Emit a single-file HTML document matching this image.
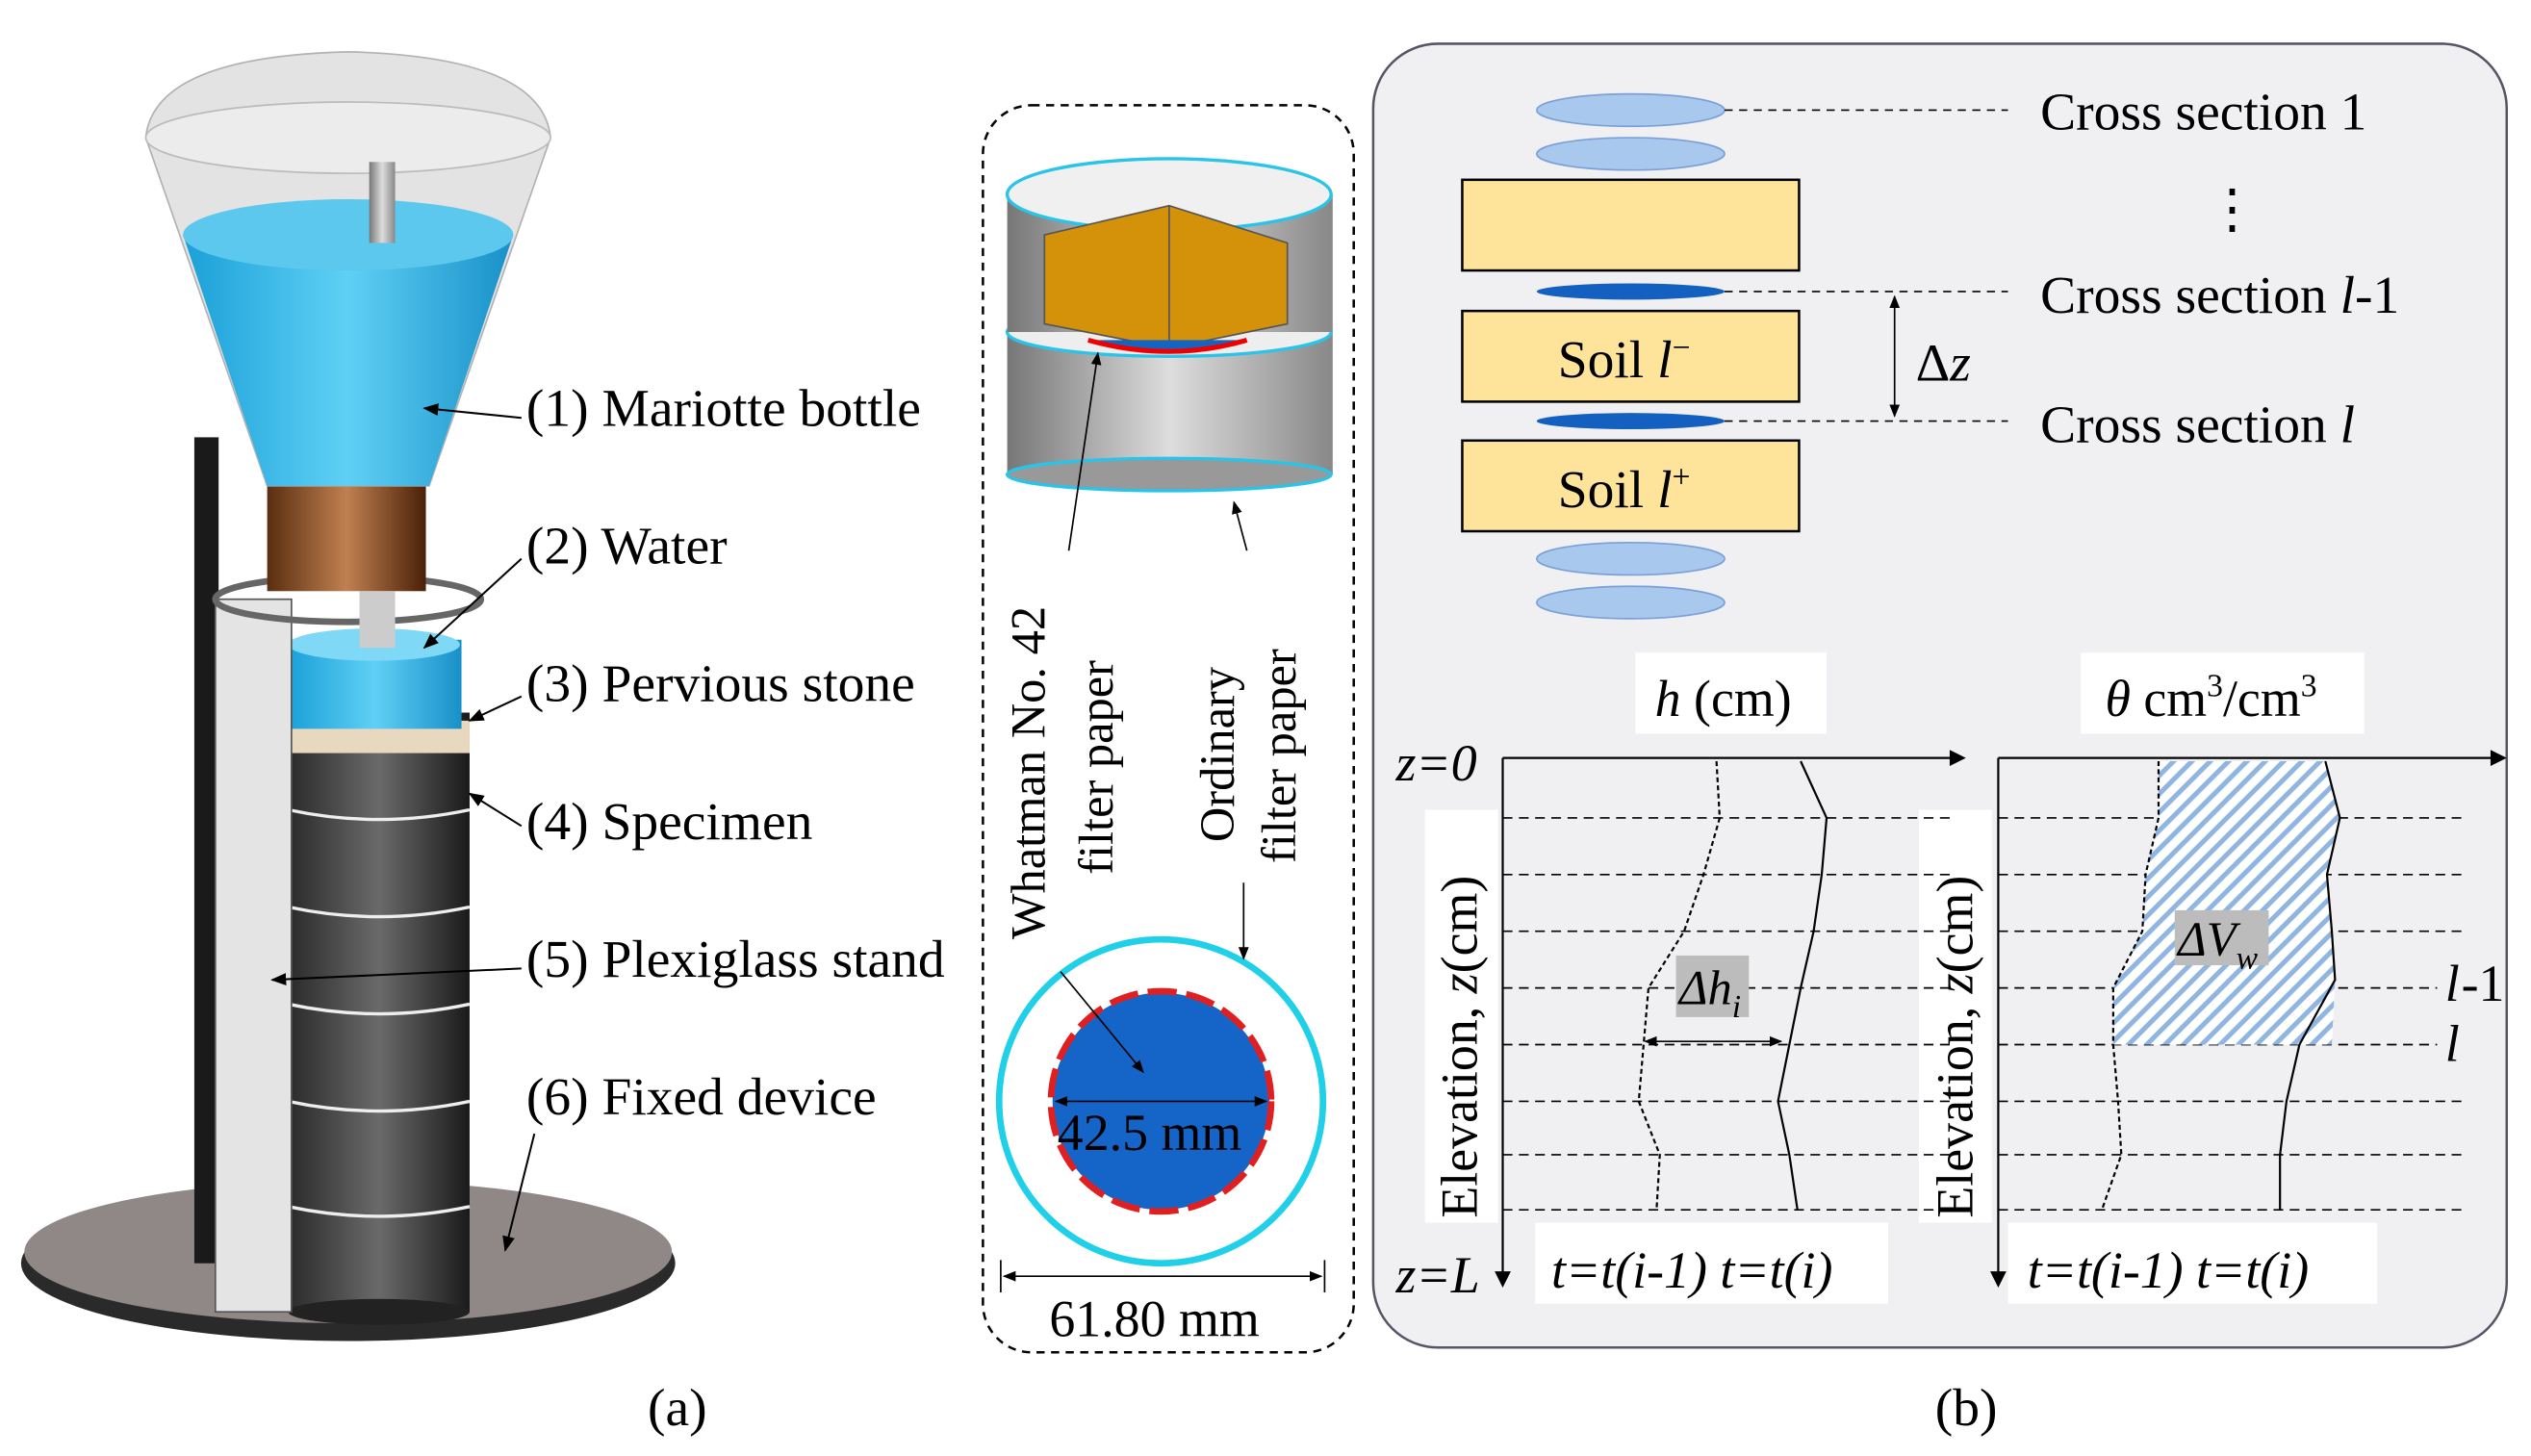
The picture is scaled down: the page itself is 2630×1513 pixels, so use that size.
<!DOCTYPE html>
<html><head><meta charset="utf-8"><style>html,body{margin:0;padding:0;background:#fff}svg{display:block}text{font-family:"Liberation Serif",serif}</style></head><body>
<svg width="2630" height="1513" viewBox="0 0 1563 899" preserveAspectRatio="none" xmlns="http://www.w3.org/2000/svg">
<defs>
<linearGradient id="dk" x1="0" x2="1"><stop offset="0" stop-color="#2a2a2a"/><stop offset="0.5" stop-color="#6a6a6a"/><stop offset="1" stop-color="#1a1a1a"/></linearGradient>
<linearGradient id="bl" x1="0" x2="1"><stop offset="0" stop-color="#1aa0d8"/><stop offset="0.5" stop-color="#5fd0f5"/><stop offset="1" stop-color="#1890c8"/></linearGradient>
<linearGradient id="br" x1="0" x2="1"><stop offset="0" stop-color="#5a2e10"/><stop offset="0.5" stop-color="#c08050"/><stop offset="1" stop-color="#4a2008"/></linearGradient>
<linearGradient id="gr" x1="0" x2="1"><stop offset="0" stop-color="#777"/><stop offset="0.5" stop-color="#ddd"/><stop offset="1" stop-color="#888"/></linearGradient>
<pattern id="hat" width="8" height="8" patternUnits="userSpaceOnUse" patternTransform="rotate(45)"><rect width="8" height="8" fill="#fff"/><rect width="3" height="8" fill="#8fb6e0"/></pattern>
<marker id="ar" viewBox="0 0 10 10" refX="9" refY="5" markerWidth="8" markerHeight="8" orient="auto-start-reverse"><path d="M0 1 L10 5 L0 9z" fill="#000"/></marker>
</defs>
<!-- (a) -->
<ellipse cx="215" cy="780" rx="202" ry="48" fill="#2a2a2a"/>
<ellipse cx="215" cy="773" rx="200" ry="44" fill="#8f8886"/>
<rect x="120" y="270" width="15" height="510" fill="#1a1a1a"/>
<rect x="178" y="440" width="112" height="370" fill="url(#dk)"/>
<ellipse cx="234" cy="810" rx="56" ry="8" fill="#222"/>
<g stroke="#eee" stroke-width="2" fill="none">
<path d="M178 500 Q234 512 290 500"/><path d="M178 560 Q234 572 290 560"/><path d="M178 620 Q234 632 290 620"/><path d="M178 680 Q234 692 290 680"/><path d="M178 745 Q234 757 290 745"/></g>
<rect x="178" y="445" width="112" height="20" fill="#e8d8c0"/>
<rect x="178" y="395" width="107" height="55" fill="url(#bl)"/>
<ellipse cx="231" cy="398" rx="53" ry="10" fill="#7fd8f5"/>
<rect x="133" y="370" width="47" height="440" fill="#e4e4e4" stroke="#555"/>
<ellipse cx="215" cy="370" rx="82" ry="14" fill="none" stroke="#666" stroke-width="4"/>
<rect x="165" y="285" width="98" height="80" fill="url(#br)"/>
<rect x="222" y="365" width="22" height="35" fill="#ccc"/>
<path d="M90 85 Q95 35 215 32 Q335 35 340 85 L265 300 L165 300 Z" fill="#e0e0e0" opacity="0.9" stroke="#aaa"/>
<ellipse cx="215" cy="85" rx="125" ry="22" fill="#ececec" stroke="#bbb"/>
<path d="M113 145 L317 145 L265 300 L165 300 Z" fill="url(#bl)"/>
<ellipse cx="215" cy="145" rx="102" ry="22" fill="#5cc8ee"/>
<rect x="228" y="100" width="16" height="50" fill="url(#gr)"/>
<g stroke="#000" stroke-width="1.2" marker-end="url(#ar)"><line x1="322" y1="258" x2="262" y2="252"/><line x1="322" y1="345" x2="262" y2="400"/><line x1="322" y1="430" x2="290" y2="445"/><line x1="322" y1="510" x2="290" y2="490"/><line x1="322" y1="598" x2="168" y2="605"/><line x1="330" y1="700" x2="312" y2="772"/></g>
<g font-size="33"><text x="325" y="263">(1) Mariotte bottle</text><text x="325" y="348">(2) Water</text><text x="325" y="433">(3) Pervious stone</text><text x="325" y="518">(4) Specimen</text><text x="325" y="603">(5) Plexiglass stand</text><text x="325" y="688">(6) Fixed device</text><text x="400" y="880">(a)</text><text x="1195" y="880">(b)</text></g>
<!-- middle -->
<rect x="607" y="65" width="229" height="770" rx="30" fill="none" stroke="#000" stroke-width="1.5" stroke-dasharray="5,4"/>
<rect x="622" y="205" width="201" height="88" fill="url(#gr)"/>
<ellipse cx="722" cy="293" rx="100" ry="10" fill="#999" stroke="#29c4e8" stroke-width="2"/>
<ellipse cx="722" cy="205" rx="100" ry="15" fill="#eee" stroke="#29c4e8" stroke-width="2"/>
<rect x="622" y="120" width="201" height="85" fill="url(#gr)"/>
<ellipse cx="722" cy="120" rx="100" ry="22" fill="#f0f0f0" stroke="#29c4e8" stroke-width="2"/>
<path d="M645 145 L722 127 L795 150 L795 200 L722 215 L645 200 Z" fill="#d4920a" stroke="#555"/>
<line x1="722" y1="127" x2="722" y2="215" stroke="#555"/>
<path d="M672 210 Q722 224 770 210" stroke="#e00" stroke-width="3" fill="#1565c0"/>
<circle cx="717" cy="680" r="100" fill="#fff" stroke="#20d0e8" stroke-width="4"/>
<circle cx="717" cy="680" r="67" fill="#1565c8"/>
<circle cx="717" cy="680" r="68" fill="none" stroke="#e02020" stroke-width="4" stroke-dasharray="18,6"/>
<line x1="652" y1="680" x2="782" y2="680" stroke="#000" marker-start="url(#ar)" marker-end="url(#ar)"/>
<text x="653" y="710" font-size="32">42.5 mm</text>
<line x1="620" y1="788" x2="816" y2="788" stroke="#000" marker-start="url(#ar)" marker-end="url(#ar)"/><line x1="618" y1="778" x2="618" y2="798" stroke="#000"/><line x1="818" y1="778" x2="818" y2="798" stroke="#000"/>
<text x="648" y="825" font-size="32">61.80 mm</text>
<text transform="translate(645 580) rotate(-90)" font-size="30">Whatman No. 42</text>
<text transform="translate(687 540) rotate(-90)" font-size="30">filter paper</text>
<text transform="translate(762 520) rotate(-90)" font-size="30">Ordinary</text>
<text transform="translate(800 533) rotate(-90)" font-size="30">filter paper</text>
<g stroke="#000" marker-end="url(#ar)"><line x1="660" y1="340" x2="678" y2="218"/><line x1="655" y1="600" x2="706" y2="662"/><line x1="768" y1="545" x2="768" y2="592"/><line x1="770" y1="340" x2="762" y2="310"/></g>
<!-- (b) -->
<rect x="848" y="27" width="700" height="805" rx="40" fill="#f0f0f3" stroke="#556" stroke-width="1.5"/>
<g fill="#a8c8ee" stroke="#7aa0d8"><ellipse cx="1007" cy="68" rx="58" ry="10"/><ellipse cx="1007" cy="95" rx="58" ry="10"/><ellipse cx="1007" cy="345" rx="58" ry="10"/><ellipse cx="1007" cy="372" rx="58" ry="10"/></g>
<g fill="#1460c0"><ellipse cx="1007" cy="180" rx="58" ry="5"/><ellipse cx="1007" cy="260" rx="58" ry="5"/></g>
<g fill="#fde49a" stroke="#000" stroke-width="1.5"><rect x="903" y="111" width="208" height="56"/><rect x="903" y="192" width="208" height="56"/><rect x="903" y="272" width="208" height="56"/></g>
<g stroke="#000" stroke-dasharray="5,4"><line x1="1065" y1="68" x2="1240" y2="68"/><line x1="1065" y1="180" x2="1240" y2="180"/><line x1="1065" y1="260" x2="1240" y2="260"/></g>
<line x1="1170" y1="183" x2="1170" y2="257" stroke="#000" marker-start="url(#ar)" marker-end="url(#ar)"/>
<g font-size="33"><text x="962" y="233">Soil <tspan font-style="italic">l</tspan><tspan font-size="20" dy="-12">−</tspan></text><text x="962" y="313">Soil <tspan font-style="italic">l</tspan><tspan font-size="20" dy="-12">+</tspan></text>
<text x="1183" y="235">Δ<tspan font-style="italic">z</tspan></text>
<text x="1260" y="80">Cross section 1</text><text x="1260" y="193">Cross section <tspan font-style="italic">l</tspan>-1</text><text x="1260" y="273">Cross section <tspan font-style="italic">l</tspan></text><text x="1362" y="140">⋮</text></g>
<g fill="#fff"><rect x="1010" y="403" width="118" height="50"/><rect x="1285" y="403" width="175" height="50"/><rect x="948" y="755" width="218" height="50"/><rect x="1240" y="755" width="228" height="50"/><rect x="880" y="500" width="45" height="255"/><rect x="1185" y="500" width="45" height="255"/></g>
<g font-size="32"><text x="1022" y="442"><tspan font-style="italic">h</tspan> (cm)</text><text x="1300" y="442"><tspan font-style="italic">θ</tspan> cm<tspan font-size="20" dy="-12">3</tspan><tspan dy="12">/cm</tspan><tspan font-size="20" dy="-12">3</tspan></text>
<text x="958" y="795" font-style="italic">t=t(i-1) t=t(i)</text><text x="1252" y="795" font-style="italic">t=t(i-1)  t=t(i)</text>
<text x="862" y="482" font-style="italic">z=0</text><text x="862" y="798" font-style="italic">z=L</text>
<text transform="translate(912 752) rotate(-90)">Elevation, <tspan font-style="italic">z</tspan>(cm)</text>
<text transform="translate(1218 752) rotate(-90)">Elevation, <tspan font-style="italic">z</tspan>(cm)</text>
<text x="1510" y="618" font-style="italic">l</text><text x="1510" y="655" font-style="italic">l</text><text x="1520" y="618">-1</text></g>
<g stroke="#000" stroke-width="1.3"><line x1="928" y1="468" x2="1210" y2="468"/><line x1="928" y1="468" x2="928" y2="790"/><line x1="1234" y1="468" x2="1545" y2="468"/><line x1="1234" y1="468" x2="1234" y2="790"/></g>
<g fill="#000"><path d="M1214 468 l-10 -5 v10z"/><path d="M1548 468 l-10 -5 v10z"/><path d="M928 795 l-5 -10 h10z"/><path d="M1234 795 l-5 -10 h10z"/></g>
<g stroke="#000" stroke-dasharray="6,4" stroke-width="1"><line x1="928" y1="505" x2="1208" y2="505"/><line x1="928" y1="540" x2="1208" y2="540"/><line x1="928" y1="575" x2="1208" y2="575"/><line x1="928" y1="610" x2="1208" y2="610"/><line x1="928" y1="645" x2="1208" y2="645"/><line x1="928" y1="680" x2="1208" y2="680"/><line x1="928" y1="713" x2="1208" y2="713"/><line x1="928" y1="747" x2="1208" y2="747"/>
<line x1="1234" y1="505" x2="1520" y2="505"/><line x1="1234" y1="540" x2="1520" y2="540"/><line x1="1234" y1="575" x2="1520" y2="575"/><line x1="1234" y1="610" x2="1505" y2="610"/><line x1="1234" y1="645" x2="1505" y2="645"/><line x1="1234" y1="680" x2="1520" y2="680"/><line x1="1234" y1="713" x2="1520" y2="713"/><line x1="1234" y1="747" x2="1520" y2="747"/></g>
<path d="M1333 470 L1436 470 L1445 505 L1437 540 L1440 575 L1442 605 L1440 645 L1305 645 L1305 610 L1323 575 L1325 540 L1333 505 Z" fill="url(#hat)"/>
<g fill="none" stroke="#000" stroke-width="1.3"><path d="M1112 470 L1128 505 L1125 540 L1120 575 L1112 610 L1105 645 L1098 680 L1105 713 L1110 747"/><path d="M1436 470 L1445 505 L1437 540 L1440 575 L1442 605 L1420 645 L1412 680 L1408 713 L1408 747"/></g>
<g fill="none" stroke="#000" stroke-width="1.3" stroke-dasharray="3,2"><path d="M1060 470 L1062 505 L1052 540 L1040 575 L1018 610 L1015 645 L1012 680 L1025 713 L1023 747"/><path d="M1333 470 L1333 505 L1325 540 L1323 575 L1305 610 L1305 645 L1308 680 L1310 713 L1298 747"/></g>
<line x1="1016" y1="643" x2="1100" y2="643" stroke="#000" marker-start="url(#ar)" marker-end="url(#ar)"/>
<rect x="1035" y="590" width="45" height="38" fill="#bcbcbc"/><text x="1037" y="620" font-size="30" font-style="italic">Δh<tspan font-size="20" dy="8">i</tspan></text>
<rect x="1343" y="562" width="58" height="34" fill="#bcbcbc"/><text x="1345" y="590" font-size="30" font-style="italic">ΔV<tspan font-size="20" dy="8">w</tspan></text>
</svg>
</body></html>
